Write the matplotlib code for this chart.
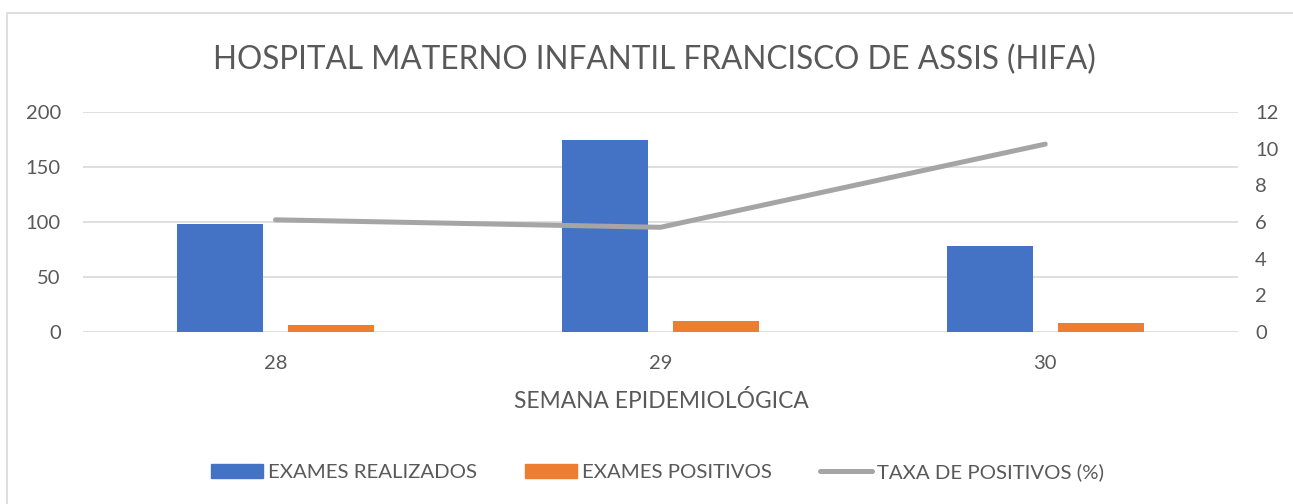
import matplotlib
matplotlib.use("Agg")
import matplotlib.pyplot as plt
from matplotlib.patches import Rectangle
from matplotlib.lines import Line2D
from matplotlib.patches import Patch
import numpy as np

categories = ["28", "29", "30"]
exames_realizados = [98, 175, 78]
exames_positivos = [6, 10, 8]
taxa_positivos = [6.12, 5.71, 10.26]

title = "HOSPITAL MATERNO INFANTIL FRANCISCO DE ASSIS (HIFA)"
xlabel = "SEMANA EPIDEMIOLÓGICA"
labels = ["EXAMES REALIZADOS", "EXAMES POSITIVOS", "TAXA DE POSITIVOS (%)"]

BLUE = "#4472C4"
ORANGE = "#ED7D31"
GRAY = "#A5A5A5"
TEXT = "#595959"
GRID = "#D9D9D9"

plt.rcParams['font.family'] = ['Lato', 'DejaVu Sans']

W, H = 1293, 504
fig = plt.figure(figsize=(W / 100, H / 100), dpi=100)
fig.patch.set_facecolor("white")

# outer chart border
fig.patches.append(Rectangle((7 / W, -0.05), 1.2, 1 - 13 / H + 0.05, transform=fig.transFigure,
                             fill=False, edgecolor=GRID, linewidth=1.2))

left, right = 83 / W, 1237.7 / W
bottom, top = 1 - 331.7 / H, 1 - 112.3 / H
ax = fig.add_axes([left, bottom, right - left, top - bottom])
ax2 = ax.twinx()

x = np.arange(len(categories))
bw = 0.224
off = 0.144
ax.bar(x - off, exames_realizados, bw, color=BLUE, zorder=3)
ax.bar(x + off, exames_positivos, bw, color=ORANGE, zorder=3)
ax2.plot(x, taxa_positivos, color=GRAY, linewidth=3.6, solid_capstyle="round",
         solid_joinstyle="round", zorder=4)

ax.set_xlim(-0.5, 2.5)
ax.set_ylim(0, 200)
ax.set_yticks(range(0, 201, 50))
ax2.set_ylim(0, 12)
ax2.set_yticks(range(0, 13, 2))
ax.set_xticks(x)
ax.set_xticklabels(categories)

ax.grid(axis="y", color=GRID, linewidth=1.2, zorder=0)
ax.set_axisbelow(True)
for a in (ax, ax2):
    for s in a.spines.values():
        s.set_visible(False)
    a.tick_params(length=0, colors=TEXT, labelsize=14.5)
ax.tick_params(axis="y", pad=16)
ax2.tick_params(axis="y", pad=12.5)
ax.tick_params(axis="x", pad=17)

ax.set_zorder(1)
ax2.set_zorder(2)
ax2.patch.set_visible(False)

fig.text(654 / W, 1 - 60 / H, title, ha="center", va="center", fontsize=22.7, color=TEXT)
fig.text(661 / W, 1 - 401 / H, xlabel, ha="center", va="center", fontsize=16.4, color=TEXT)

handles = [Patch(facecolor=BLUE, edgecolor=BLUE),
           Patch(facecolor=ORANGE, edgecolor=ORANGE),
           Line2D([0], [0], color=GRAY, linewidth=3.6, solid_capstyle="round")]
fig.legend(handles, labels, loc="center left", bbox_to_anchor=(211 / W, 1 - 472 / H), ncol=3,
           frameon=False, fontsize=14.7, handlelength=2.55, handleheight=0.69,
           handletextpad=0.25, columnspacing=2.35, labelcolor=TEXT,
           borderpad=0, borderaxespad=0)

fig.savefig("out.png", dpi=100, facecolor="white")
